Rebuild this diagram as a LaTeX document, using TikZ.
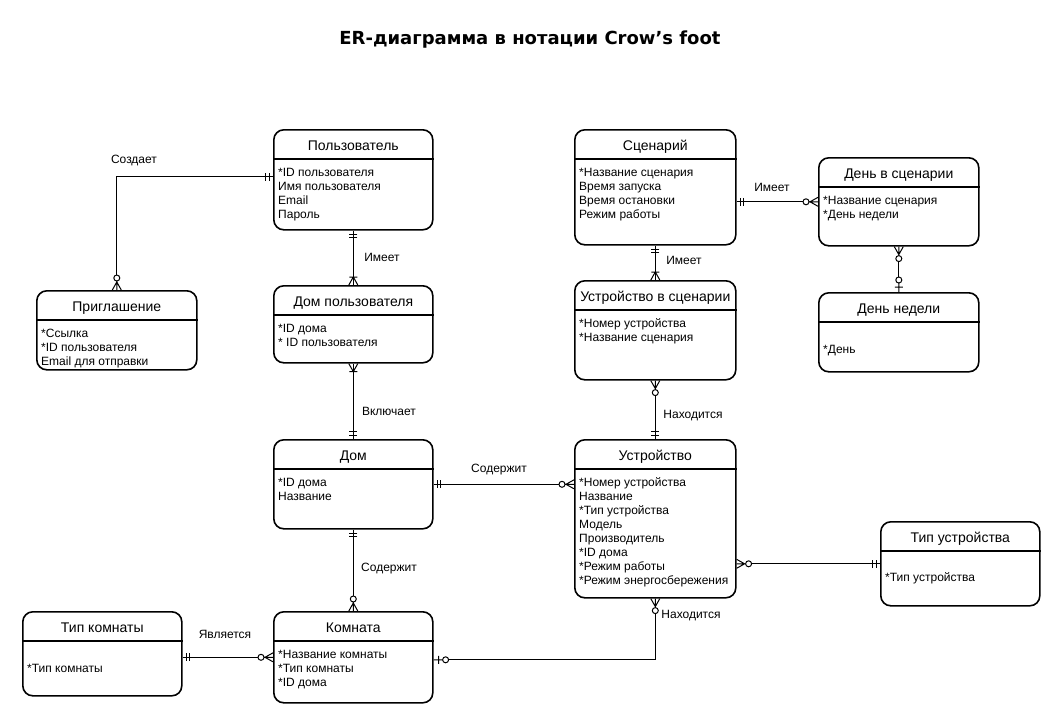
\documentclass[tikz,border=0pt]{standalone}
\usepackage{fontspec}
\setmainfont{Liberation Sans}
\newfontfamily\headfont{DejaVu Sans}
\usetikzlibrary{calc}
\usetikzlibrary{arrows.meta}

% crow's foot ends
\pgfdeclarearrow{
  name = mandOne,
  setup code = {
    \pgfarrowssettipend{0pt}
    \pgfarrowssetlineend{0pt}
    \pgfarrowssetbackend{-8pt}
  },
  drawing code = {
    \pgfpathmoveto{\pgfqpoint{-4pt}{-4pt}}
    \pgfpathlineto{\pgfqpoint{-4pt}{4pt}}
    \pgfpathmoveto{\pgfqpoint{-7.3pt}{-4pt}}
    \pgfpathlineto{\pgfqpoint{-7.3pt}{4pt}}
    \pgfusepathqstroke
  }
}
\pgfdeclarearrow{
  name = oneMany,
  setup code = {
    \pgfarrowssettipend{0pt}
    \pgfarrowssetlineend{0pt}
    \pgfarrowssetbackend{-9pt}
  },
  drawing code = {
    \pgfpathmoveto{\pgfqpoint{0pt}{4.5pt}}
    \pgfpathlineto{\pgfqpoint{-8pt}{0pt}}
    \pgfpathlineto{\pgfqpoint{0pt}{-4.5pt}}
    \pgfpathmoveto{\pgfqpoint{-8pt}{-4pt}}
    \pgfpathlineto{\pgfqpoint{-8pt}{4pt}}
    \pgfusepathqstroke
  }
}
\pgfdeclarearrow{
  name = zeroMany,
  setup code = {
    \pgfarrowssettipend{0pt}
    \pgfarrowssetlineend{-15pt}
    \pgfarrowssetbackend{-15pt}
  },
  drawing code = {
    \pgfpathmoveto{\pgfqpoint{0pt}{4.5pt}}
    \pgfpathlineto{\pgfqpoint{-8pt}{0pt}}
    \pgfpathlineto{\pgfqpoint{0pt}{-4.5pt}}
    \pgfpathmoveto{\pgfqpoint{-9pt}{0pt}}
    \pgfpathlineto{\pgfqpoint{0pt}{0pt}}
    \pgfpathcircle{\pgfqpoint{-12pt}{0pt}}{3pt}
    \pgfusepathqstroke
  }
}
\pgfdeclarearrow{
  name = zeroOne,
  setup code = {
    \pgfarrowssettipend{0pt}
    \pgfarrowssetlineend{-15pt}
    \pgfarrowssetbackend{-15pt}
  },
  drawing code = {
    \pgfpathmoveto{\pgfqpoint{-5pt}{-4pt}}
    \pgfpathlineto{\pgfqpoint{-5pt}{4pt}}
    \pgfpathmoveto{\pgfqpoint{-9pt}{0pt}}
    \pgfpathlineto{\pgfqpoint{0pt}{0pt}}
    \pgfpathcircle{\pgfqpoint{-12pt}{0pt}}{3pt}
    \pgfusepathqstroke
  }
}

\tikzset{
  entity/.style = {draw, line width=1.6pt, rounded corners=10pt,
    anchor=north west, inner sep=0pt}
}
\tikzset{
  entity title/.style = {anchor=base, inner sep=0pt, font=\fontsize{14}{16}\selectfont},
  attribute/.style = {anchor=base west, inner sep=0pt, font=\fontsize{12}{14}\selectfont},
  header line/.style = {line width=1.4pt},
  relation/.style = {line width=1pt},
  relation label/.style = {inner sep=1pt, font=\fontsize{12}{14}\selectfont},
  diagram title/.style = {font=\headfont\bfseries\fontsize{18}{21}\selectfont}
}

% [first baseline]{name}{x}{y}{width}{height}{title}{attributes}
\newcommand{\entity}[8][47]{
  \node[entity, minimum width=#5, minimum height=#6] (#2) at (#3,#4) {};
  \draw[header line] ($(#2.north west)+(0,30)$) -- ($(#2.north east)+(0,30)$);
  \node[entity title] (#2-title) at ($(#2.north)+(0,21)$) {#7};
  \foreach \a [count=\i] in {#8}
    \node[attribute] (#2-a\i) at ($(#2.north west)+(5,{#1+14*(\i-1)})$) {\a};
}

\begin{document}
\begin{tikzpicture}[x=1pt, y=-1pt]
  \useasboundingbox (0,0) rectangle (1060,718);

  \node[diagram title] (title) at (530,40) {ER-диаграмма в нотации Crow’s foot};

  % left column
  \entity{polz}{273}{129}{159}{100}{Пользователь}
    {*ID пользователя, Имя пользователя, Email, Пароль}
  \entity{uhome}{273}{285}{159}{77}{Дом пользователя}
    {*ID дома, * ID пользователя}
  \entity{invite}{36}{290}{160}{79}{Приглашение}
    {*Ссылка, *ID пользователя, Email для отправки}
  \entity{home}{273}{439}{159}{89}{Дом}
    {*ID дома, Название}
  \entity{room}{273}{611}{159}{91}{Комната}
    {*Название комнаты, *Тип комнаты, *ID дома}
  \entity[61]{roomtype}{22}{611}{159}{84}{Тип комнаты}
    {*Тип комнаты}

  % right column
  \entity{scen}{574}{129}{161}{115}{Сценарий}
    {*Название сценария, Время запуска, Время остановки, Режим работы}
  \entity{devscen}{574}{280}{161}{99}{Устройство в сценарии}
    {*Номер устройства, *Название сценария}
  \entity{dayscen}{818}{157}{160}{88}{День в сценарии}
    {*Название сценария, *День недели}
  \entity[61]{weekday}{818}{292}{160}{79}{День недели}
    {*День}
  \entity{device}{574}{439}{161}{158}{Устройство}
    {*Номер устройства, Название, *Тип устройства, Модель, Производитель,
     *ID дома, *Режим работы, *Режим энергосбережения}
  \entity[60]{devtype}{880}{521}{159}{84}{Тип устройства}
    {*Тип устройства}

  % relations
  \draw[relation, mandOne-zeroMany] ([yshift=3pt]polz.west) -| (invite.north);
  \draw[relation, mandOne-oneMany] (polz.south) -- (uhome.north);
  \draw[relation, oneMany-mandOne] (uhome.south) -- (home.north);
  \draw[relation, mandOne-zeroMany] (home.east) -- (home.east -| device.west);
  \draw[relation, mandOne-zeroMany] (home.south) -- (room.north);
  \draw[relation, mandOne-zeroMany] (room.west -| roomtype.east) -- (room.west);
  \draw[relation, zeroOne-zeroMany] ([yshift=-2.5pt]room.east) -| (device.south);
  \draw[relation, zeroMany-mandOne] (devtype.west -| device.east) -- (devtype.west);
  \draw[relation, mandOne-zeroMany] (device.north) -- (devscen.south);
  \draw[relation, mandOne-oneMany] (scen.south) -- (devscen.north);
  \draw[relation, mandOne-zeroMany] (dayscen.west -| scen.east) -- (dayscen.west);
  \draw[relation, zeroMany-zeroOne] (dayscen.south) -- (weekday.north);

  % relation labels
  \node[relation label] (l-creates) at (134,161) {Создает};
  \node[relation label] (l-has1) at (382,257) {Имеет};
  \node[relation label] (l-incl) at (389,411) {Включает};
  \node[relation label] (l-cont1) at (499,470) {Содержит};
  \node[relation label] (l-cont2) at (389,569) {Содержит};
  \node[relation label] (l-is) at (225,634) {Является};
  \node[relation label] (l-loc1) at (691,616) {Находится};
  \node[relation label] (l-loc2) at (693,416) {Находится};
  \node[relation label] (l-has2) at (684,260) {Имеет};
  \node[relation label] (l-has3) at (772,187) {Имеет};
\end{tikzpicture}
\end{document}
